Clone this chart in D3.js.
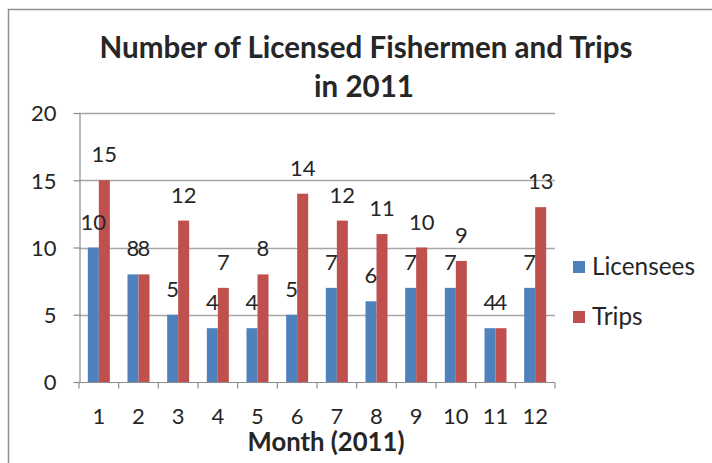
<!DOCTYPE html>
<html>
<head>
<meta charset="utf-8">
<script src="https://cdn.jsdelivr.net/npm/d3@7"></script>
<style>
  html, body { margin: 0; padding: 0; background: #fff; }
  svg { display: block; }
  text { font-family: Lato, "Open Sans", sans-serif; fill: #262626; }
</style>
</head>
<body>
<svg id="chart" width="712" height="463"></svg>
<script>
const months = ["1","2","3","4","5","6","7","8","9","10","11","12"];
const licensees = [10, 8, 5, 4, 4, 5, 7, 6, 7, 7, 4, 7];
const trips = [15, 8, 12, 7, 8, 14, 12, 11, 10, 9, 4, 13];
const seriesNames = ["Licensees", "Trips"];
const seriesColors = ["#4F81BD", "#C0504D"];
const yTicks = [0, 5, 10, 15, 20];
const titleLines = ["Number of Licensed Fishermen and Trips", "in 2011"];
const xTitle = "Month (2011)";

const svg = d3.select("#chart");

// frame
svg.append("rect").attr("x", 8.5).attr("y", 9.5).attr("width", 720).attr("height", 470)
  .attr("fill", "#fff").attr("stroke", "#8f8f8f").attr("stroke-width", 1.5);

const plot = { left: 79, right: 555, top: 113, bottom: 382 };

const x = d3.scaleBand().domain(months).range([plot.left, plot.right])
  .paddingInner(0.445).paddingOuter(0.2225);
const xs = d3.scaleBand().domain(seriesNames).range([0, x.bandwidth()]);
const y = d3.scaleLinear().domain([0, 20]).range([plot.bottom, plot.top]);

function fit(sel, w) {
  const n = sel.node();
  const cur = parseFloat(sel.attr("font-size"));
  const len = n.getComputedTextLength();
  sel.attr("font-size", (cur * w / len).toFixed(2));
  return sel;
}

// gridlines
svg.append("g").selectAll("line").data(yTicks.filter(d => d > 0)).join("line")
  .attr("x1", plot.left).attr("x2", plot.right)
  .attr("y1", d => Math.round(y(d)) + 0.5).attr("y2", d => Math.round(y(d)) + 0.5)
  .attr("stroke", "#a6a6a6").attr("stroke-width", 1.5);

// y axis
const yAxis = svg.append("g").attr("transform", `translate(${plot.left + 0.5},0)`)
  .call(d3.axisLeft(y).tickValues(yTicks).tickSize(6).tickPadding(17).tickSizeOuter(0));
yAxis.select(".domain").attr("stroke", "#8c8c8c").attr("stroke-width", 1.2);
yAxis.selectAll(".tick line").attr("stroke", "#8c8c8c").attr("stroke-width", 1.2);
yAxis.selectAll(".tick text").attr("font-size", 22).attr("font-family", "Lato, sans-serif")
  .attr("fill", "#262626").attr("dy", "0.36em");

// bars
const data = months.map((m, i) => ({ m, vals: [licensees[i], trips[i]] }));
const groups = svg.append("g").selectAll("g").data(data).join("g")
  .attr("transform", d => `translate(${x(d.m)},0)`);
groups.selectAll("rect").data(d => d.vals.map((v, k) => ({ v, k }))).join("rect")
  .attr("x", d => xs(seriesNames[d.k]))
  .attr("width", xs.bandwidth())
  .attr("y", d => y(d.v))
  .attr("height", d => y(0) - y(d.v))
  .attr("fill", d => seriesColors[d.k]);

// data labels
groups.selectAll("text").data(d => d.vals.map((v, k) => ({ v, k }))).join("text")
  .attr("x", d => xs(seriesNames[d.k]) + xs.bandwidth() / 2)
  .attr("y", d => y(d.v) - 18)
  .attr("text-anchor", "middle")
  .attr("font-size", 22)
  .attr("fill", "#333")
  .text(d => d.v);

// x axis
const xAxisG = svg.append("g").attr("transform", `translate(0,${plot.bottom + 0.5})`);
xAxisG.append("line").attr("x1", plot.left).attr("x2", plot.right)
  .attr("stroke", "#8c8c8c").attr("stroke-width", 1.2);
const boundaries = months.map(m => x(m) - x.step() * x.paddingInner() / 2)
  .concat([plot.right]);
xAxisG.selectAll("line.tk").data(boundaries).join("line").attr("class", "tk")
  .attr("x1", d => d).attr("x2", d => d).attr("y1", 0).attr("y2", 6)
  .attr("stroke", "#8c8c8c").attr("stroke-width", 1.2);
xAxisG.selectAll("text").data(months).join("text")
  .attr("x", d => x(d) + x.bandwidth() / 2)
  .attr("y", 41)
  .attr("text-anchor", "middle")
  .attr("font-size", 22)
  .text(d => d);

// x title
const xt = svg.append("text").attr("x", 326).attr("y", 451).attr("text-anchor", "middle")
  .attr("font-weight", "bold").attr("font-size", 20).text(xTitle);
fit(xt, 157);

// title
const t1 = svg.append("text").attr("x", 366).attr("y", 58).attr("text-anchor", "middle")
  .attr("font-weight", "bold").attr("font-size", 24).text(titleLines[0]);
fit(t1, 533);
svg.append("text").attr("x", 364).attr("y", 97).attr("text-anchor", "middle")
  .attr("font-weight", "bold").attr("font-size", t1.attr("font-size")).text(titleLines[1]);

// legend
const legend = svg.append("g");
const legendY = [267, 317];
let legendFont = 22;
seriesNames.forEach((name, i) => {
  legend.append("rect").attr("x", 573).attr("y", legendY[i] - 6).attr("width", 12).attr("height", 12)
    .attr("fill", seriesColors[i]);
  const t = legend.append("text").attr("x", 592).attr("y", legendY[i] + 8)
    .attr("font-size", 22).text(name);
  if (i === 0) { fit(t, 103); legendFont = t.attr("font-size"); }
  else t.attr("font-size", legendFont);
});
</script>
</body>
</html>
